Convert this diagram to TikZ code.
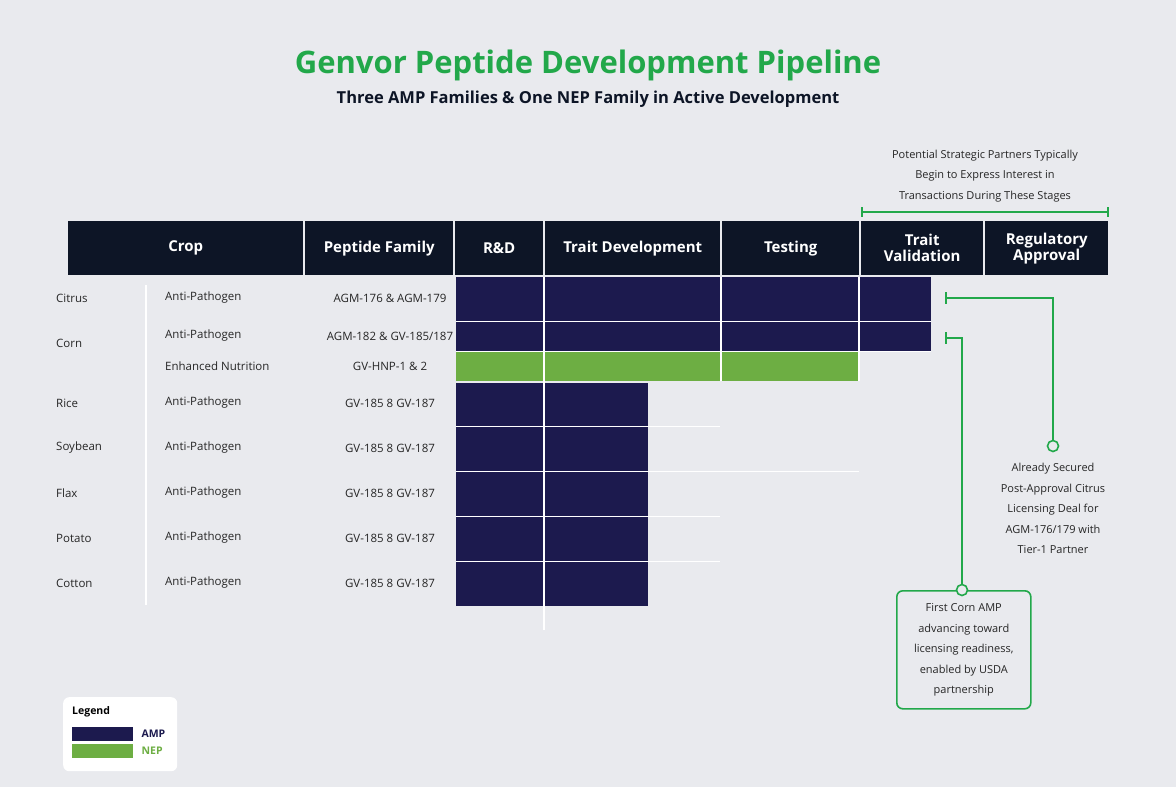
\documentclass[tikz,border=0pt]{standalone}
\usepackage{fontspec}
\setmainfont{Open Sans}
\usetikzlibrary{positioning,calc}
\definecolor{bgc}{HTML}{E9EAEE}
\definecolor{hdr}{HTML}{0D1526}
\definecolor{amp}{HTML}{1C1A4E}
\definecolor{nep}{HTML}{6DAE43}
\definecolor{gvgreen}{HTML}{22A84A}
\tikzset{%
	head/.style  = {fill=hdr, text=white, anchor=north west, inner sep=0pt, font=\fontsize{15}{17}\selectfont\bfseries, align=center, minimum height=54pt},
	amp/.style   = {fill=amp, anchor=north west, inner sep=0pt, draw=none},
	nep/.style   = {fill=nep, anchor=north west, inner sep=0pt, draw=none},
	lbl/.style   = {font=\fontsize{11.5}{13}\selectfont, text=black!85, inner sep=0pt},
	note/.style  = {font=\fontsize{11}{20.5}\selectfont, text=black!85, align=center, inner sep=0pt},
	pointer/.style = {draw=gvgreen, line width=1.6pt},
	sep/.style   = {draw=white, line width=1.2pt},
}
\begin{document}
\begin{tikzpicture}[x=1pt,y=-1pt]
	\fill[bgc] (0,0) rectangle (1176,787);
	\useasboundingbox (0,0) rectangle (1176,787);
	% titles
	\node[font=\fontsize{31}{36}\selectfont\bfseries, text=gvgreen] (title) at (588,65) {Genvor Peptide Development Pipeline};
	\node[font=\fontsize{16.5}{19}\selectfont\bfseries, text=hdr] (subtitle) at (588,99) {Three AMP Families \& One NEP Family in Active Development};
	% header row
	\node[head, minimum width=235pt] (hcrop) at (68,221) {Crop};
	\node[head, minimum width=148pt] (hfam) at (305,221) {Peptide Family};
	\node[head, minimum width=88pt] (hrd) at (455,221) {R\&D};
	\node[head, minimum width=175pt] (htd) at (545,221) {Trait Development};
	\node[head, minimum width=137pt] (htest) at (722,221) {Testing};
	\node[head, minimum width=122pt] (htv) at (861,221) {Trait\\[-1pt]Validation};
	\node[head, minimum width=123pt] (hreg) at (985,221) {Regulatory\\[-1pt]Approval};
	% bars
	\node[amp, minimum width=475pt, minimum height=44pt] (bcitrus) at (456,277) {};
	\node[amp, minimum width=475pt, minimum height=29pt] (bcorn) at (456,322) {};
	\node[nep, minimum width=404pt, minimum height=29pt] (bnep) at (456,352) {};
	\foreach \nm/\y in {rice/383, soy/427, flax/472, potato/517, cotton/562}
		\node[amp, minimum width=192pt, minimum height=44pt] (b\nm) at (456,\y) {};
	% grid lines
	\draw[sep] (544,277) -- (544,630);
	\draw[sep] (721,277) -- (721,381);
	\draw[sep] (859,277) -- (859,381);
	\draw[sep] (456,321.5) -- (931,321.5);
	\draw[sep] (456,351.5) -- (931,351.5);
	\foreach \y/\xe in {426/720, 471/859, 516/720, 561/720}
		\draw[sep, line width=0.8pt] (456,\y) -- (\xe,\y);
	\draw[sep] (146,285) -- (146,605);
	% row labels
	\foreach \crop/\y in {Citrus/298, Corn/343, Rice/403, Soybean/448, Flax/493, Potato/538, Cotton/583}
		\node[lbl, anchor=west] (c\crop) at (56,\y) {\crop};
	\foreach \kind/\fam/\y [count=\i] in {Anti-Pathogen/{AGM-176 \& AGM-179}/298, Anti-Pathogen/{AGM-182 \& GV-185/187}/336, Enhanced Nutrition/{GV-HNP-1 \& 2}/366, Anti-Pathogen/{GV-185 8 GV-187}/403, Anti-Pathogen/{GV-185 8 GV-187}/448, Anti-Pathogen/{GV-185 8 GV-187}/493, Anti-Pathogen/{GV-185 8 GV-187}/538, Anti-Pathogen/{GV-185 8 GV-187}/583}{
		\node[lbl, anchor=west] (k\i) at (165,\y) {\kind};
		\node[lbl] (f\i) at (390,\y) {\fam};
	}
	% partner bracket
	\node[note] (partners) at (985,176) {Potential Strategic Partners Typically\\Begin to Express Interest in\\Transactions During These Stages};
	\coordinate (brl) at (862,212);
	\coordinate (brr) at (1108,212);
	\draw[pointer] (brl) -- (brr);
	\draw[pointer] ($(brl)+(0,-5)$) -- ($(brl)+(0,5)$);
	\draw[pointer] ($(brr)+(0,-5)$) -- ($(brr)+(0,5)$);
	% citrus pointer
	\coordinate (pc) at (946,298);
	\node[circle, draw=gvgreen, line width=1.6pt, fill=bgc, minimum size=11pt, inner sep=0pt] (dotc) at (1053,446) {};
	\draw[pointer] ($(pc)+(0,-6)$) -- ($(pc)+(0,6)$);
	\draw[pointer] (pc) -| (dotc);
	\node[note, anchor=north] (dealnote) at (1053,463) {Already Secured\\Post-Approval Citrus\\Licensing Deal for\\AGM-176/179 with\\Tier-1 Partner};
	% corn pointer
	\coordinate (pk) at (946,338);
	\node[draw=gvgreen, line width=1.6pt, rounded corners=6pt, minimum width=134pt, minimum height=118pt, anchor=north west, inner sep=0pt] (cornbox) at (896,590) {};
	\node[note] (corntext) at (cornbox.center) {First Corn AMP\\advancing toward\\licensing readiness,\\enabled by USDA\\partnership};
	\node[circle, draw=gvgreen, line width=1.6pt, fill=bgc, minimum size=11pt, inner sep=0pt] (dotk) at (962,590) {};
	\draw[pointer] ($(pk)+(0,-6)$) -- ($(pk)+(0,6)$);
	\draw[pointer] (pk) -| (dotk);
	% legend
	\node[fill=white, rounded corners=6pt, minimum width=114pt, minimum height=74pt, anchor=north west, inner sep=0pt] (legend) at (63,697) {};
	\node[font=\fontsize{10.5}{12}\selectfont\bfseries, anchor=west, inner sep=0pt] (legtitle) at (72,712) {Legend};
	\node[amp, minimum width=61pt, minimum height=14pt] (lamp) at (72,727) {};
	\node[nep, minimum width=61pt, minimum height=14pt] (lnep) at (72,744) {};
	\node[font=\fontsize{10.5}{12}\selectfont\bfseries, text=amp, right=8pt of lamp, inner sep=0pt] (tamp) {AMP};
	\node[font=\fontsize{10.5}{12}\selectfont\bfseries, text=nep, right=8pt of lnep, inner sep=0pt] (tnep) {NEP};
\end{tikzpicture}
\end{document}
